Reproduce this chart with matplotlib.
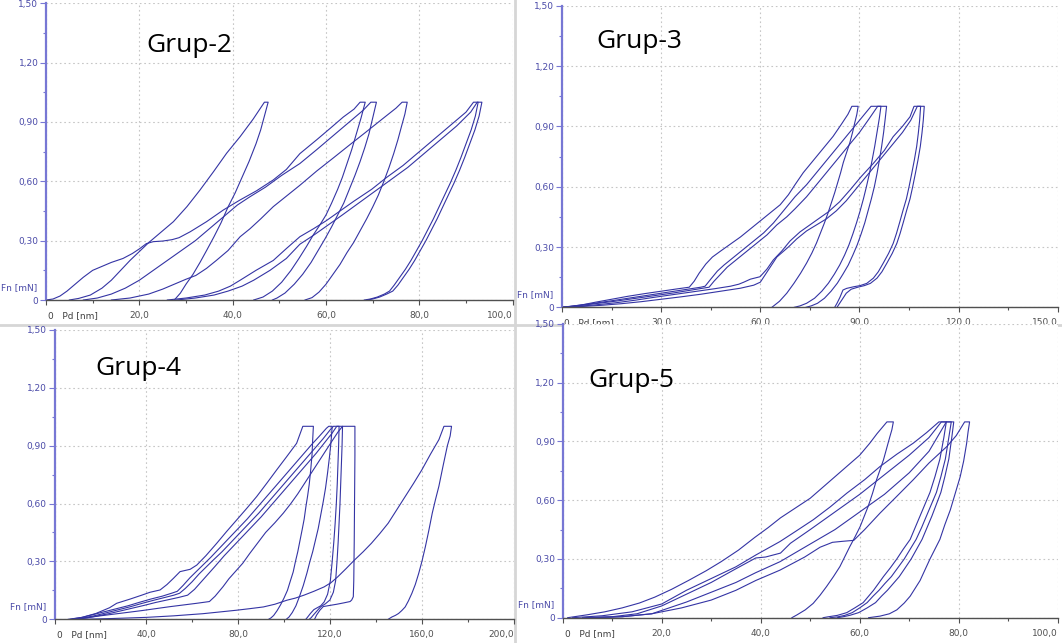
import matplotlib
matplotlib.use('Agg')
import matplotlib.pyplot as plt
from matplotlib import font_manager
from matplotlib.lines import Line2D

# ---------- data (x: Pd [nm], y: Fn [mN]) ----------

# Grup-2
g2_a = [(5,0),(7,0.008),(9.5,0.025),(12,0.06),(14,0.1),(16,0.15),(18,0.2),(20,0.245),(22,0.29),(24.5,0.34),
        (27.3,0.396),(30.2,0.472),(33,0.556),(35.9,0.649),(38.7,0.742),(41.6,0.826),(44.4,0.915),(46.8,1.0),
        (47.6,1.0),(46.8,0.93),(46.0,0.86),(45.0,0.79),(43.5,0.7),(42.0,0.62),(40.5,0.54),(39.0,0.47),(37.5,0.39),
        (36.0,0.32),(34.4,0.25),(33.0,0.19),(31.5,0.13),(30.0,0.08),(28.8,0.035),(27.5,0)]
g2_b = [(0,0),(1.5,0.005),(3,0.02),(4.5,0.045),(6,0.075),(8,0.115),(10,0.15),(12,0.17),(14,0.19),(16.5,0.21),
        (18.5,0.235),(20.1,0.26),(21.5,0.285),(23,0.295),(25,0.298),(27,0.305),(28.5,0.315),(30.9,0.345),(34.4,0.396),
        (38,0.455),(41.6,0.506),(45.1,0.552),(48.7,0.607),(51.5,0.66),(54.4,0.74),(58,0.81),(61,0.87),(63.7,0.925),
        (66,0.965),(67.3,1.0),(68.4,1.0),(67.5,0.92),(66.5,0.84),(65.5,0.76),(64.5,0.69),(63.5,0.62),(62.5,0.56),
        (61.2,0.49),(60,0.43),(58.7,0.38),(57.3,0.33),(55.8,0.27),(54.2,0.21),(52.5,0.15),(50.5,0.09),(48.5,0.045),
        (46.5,0.015),(44.5,0)]
g2_c = [(8,0),(11,0.01),(14,0.03),(17,0.06),(20,0.1),(23,0.15),(26,0.2),(29,0.25),(32,0.3),(35,0.36),(38,0.42),
        (41,0.48),(43.7,0.522),(47,0.57),(50.5,0.63),(54.4,0.69),(58,0.76),(61.5,0.83),(65,0.9),(68,0.96),(69.6,1.0),
        (70.8,1.0),(70.0,0.92),(69.2,0.84),(68.3,0.77),(67.3,0.7),(66.2,0.63),(65.0,0.56),(63.8,0.49),(62.5,0.43),
        (61.2,0.37),(59.8,0.31),(58.3,0.25),(56.8,0.19),(55.0,0.13),(53.2,0.08),(51.2,0.035),(49.5,0.01),(48.5,0)]
g2_d = [(14,0),(18,0.01),(22,0.03),(25,0.055),(28,0.085),(30,0.105),(32.1,0.124),(34.4,0.16),(36.5,0.2),(39,0.25),
        (41.6,0.32),(43.7,0.36),(46,0.41),(48.7,0.472),(51.5,0.525),(54.4,0.58),(58,0.652),(61.5,0.717),(65,0.783),
        (68.5,0.848),(72,0.914),(75,0.97),(76.3,1.0),(77.4,1.0),(76.9,0.94),(76.2,0.88),(75.4,0.81),(74.5,0.74),
        (73.5,0.67),(72.4,0.6),(71.2,0.53),(70.0,0.47),(68.7,0.41),(67.3,0.35),(65.9,0.29),(64.5,0.24),(63.0,0.18),
        (61.5,0.13),(60.0,0.08),(58.5,0.04),(57.0,0.012),(55.5,0)]
g2_e1 = [(26,0),(30,0.01),(34,0.025),(37,0.045),(39.5,0.07),(41.6,0.1),(45,0.15),(48.7,0.2),(51.5,0.26),(54.4,0.32),
         (57.3,0.36),(60,0.4),(63,0.45),(66,0.5),(69.8,0.56),(73,0.62),(76.5,0.68),(80,0.75),(83.5,0.82),(87,0.89),
         (90,0.95),(91.6,1.0),(92.6,1.0),(92.0,0.93),(91.1,0.86),(90.0,0.79),(88.9,0.72),(87.8,0.655),(86.6,0.59),
         (85.4,0.53),(84.2,0.47),(83.0,0.41),(81.8,0.355),(80.6,0.3),(79.4,0.25),(78.2,0.2),(77.0,0.155),(75.8,0.115),
         (74.6,0.075),(73.6,0.045),(72.5,0.03),(71.0,0.015),(69.5,0.005),(68.2,0)]
g2_e2 = [(28,0),(32,0.01),(36,0.025),(39,0.045),(42,0.07),(44.5,0.1),(48,0.15),(51.5,0.21),(54.4,0.282),(57.5,0.33),
         (60.5,0.38),(63.5,0.43),(67,0.49),(70.5,0.55),(74,0.61),(77.5,0.67),(81,0.74),(84.5,0.81),(88,0.88),(91,0.95),
         (92.4,1.0),(93.4,1.0),(92.8,0.93),(91.9,0.86),(90.8,0.79),(89.7,0.72),(88.6,0.655),(87.4,0.59),(86.2,0.53),
         (85.0,0.47),(83.8,0.41),(82.6,0.355),(81.4,0.3),(80.2,0.25),(79.0,0.2),(77.8,0.155),(76.6,0.115),(75.4,0.075),
         (74.3,0.045),(73.0,0.03),(71.5,0.015),(70.0,0.005),(68.8,0)]

# Grup-3
g3_p = [(0,0),(3,0.005),(6,0.012),(10,0.025),(15,0.04),(20,0.055),(25,0.068),(30,0.08),(35,0.092),(38.5,0.1),
        (40,0.13),(41.5,0.17),(43.5,0.215),(45.5,0.25),(48,0.28),(51,0.315),(54,0.35),(57,0.39),(60,0.43),(63,0.47),
        (66,0.51),(68.5,0.56),(70.5,0.61),(73,0.67),(76,0.73),(79,0.79),(82,0.85),(84.5,0.91),(86.5,0.96),(87.7,1.0),
        (89.6,1.0),(89.2,0.96),(88.6,0.92),(87.9,0.87),(87.1,0.82),(86.1,0.77),(85.1,0.72),(84.3,0.67),(83.4,0.62),
        (82.5,0.57),(81.5,0.52),(80.5,0.47),(79.4,0.42),(78.2,0.37),(77.0,0.32),(75.6,0.27),(74.0,0.22),(72.2,0.17),
        (70.2,0.12),(68.0,0.07),(65.8,0.03),(63.5,0)]
g3_q1 = [(0,0),(4,0.008),(8,0.016),(14,0.03),(20,0.045),(26,0.06),(32,0.075),(38,0.09),(42,0.1),(43.3,0.105),
         (45,0.14),(47,0.18),(49,0.21),(52,0.25),(55,0.29),(58,0.33),(61,0.37),(64,0.42),(67,0.48),(70.5,0.55),
         (74,0.61),(77.5,0.68),(81,0.75),(84.5,0.82),(88,0.89),(91,0.95),(93.5,1.0),(96.5,1.0),(96.0,0.94),(95.3,0.87),
         (94.6,0.8),(93.8,0.73),(93.0,0.665),(92.1,0.6),(91.2,0.54),(90.2,0.48),(89.1,0.42),(88.0,0.365),(86.8,0.31),
         (85.5,0.26),(84.0,0.21),(82.4,0.165),(80.6,0.12),(78.6,0.08),(76.4,0.045),(74.0,0.02),(72.0,0.007),(70.3,0)]
g3_q2 = [(0,0),(5,0.008),(10,0.018),(16,0.03),(22,0.044),(28,0.058),(34,0.072),(40,0.088),(44.5,0.1),(46,0.13),
         (48,0.165),(50,0.2),(53,0.24),(56,0.28),(59,0.32),(62,0.36),(65,0.41),(68,0.45),(70.5,0.49),(74,0.55),
         (78,0.63),(82,0.71),(86,0.79),(90,0.87),(93,0.94),(95.5,1.0),(98.2,1.0),(97.8,0.94),(97.3,0.87),(96.7,0.8),
         (96.0,0.73),(95.3,0.665),(94.5,0.6),(93.6,0.54),(92.6,0.48),(91.6,0.42),(90.5,0.365),(89.3,0.31),(88.0,0.26),
         (86.6,0.21),(85.0,0.165),(83.3,0.12),(81.4,0.08),(79.4,0.045),(77.3,0.02),(75.4,0.007),(73.8,0)]
g3_r1 = [(0,0),(5,0.005),(10,0.012),(16,0.022),(22,0.035),(28,0.05),(34,0.064),(40,0.078),(46,0.092),(51,0.105),
         (53.5,0.115),(55,0.125),(57,0.14),(59.9,0.152),(62,0.19),(63.9,0.235),(66.5,0.28),(69,0.33),(72,0.375),
         (75,0.41),(78,0.445),(80.6,0.475),(84,0.525),(87.1,0.583),(90.5,0.65),(94.2,0.716),(97.5,0.78),(100.2,0.849),
         (103,0.9),(105.3,0.948),(106.5,1.0),(108.5,1.0),(108.2,0.93),(107.8,0.866),(107.3,0.8),(106.6,0.733),
         (105.8,0.665),(105.0,0.6),(104.2,0.54),(103.2,0.484),(102.2,0.425),(101.2,0.368),(100.2,0.318),(98.8,0.268),
         (97.2,0.22),(95.7,0.177),(94.2,0.145),(92.2,0.119),(90.2,0.108),(88.2,0.102),(86.1,0.094),(85.0,0.086),
         (84.1,0.05),(83.2,0.02),(82.5,0)]
g3_r2 = [(0,0),(6,0.004),(12,0.01),(18,0.018),(24,0.028),(30,0.04),(36,0.052),(42,0.065),(48,0.08),(54,0.095),
         (58,0.11),(60,0.125),(61.4,0.16),(63,0.2),(65,0.25),(68.5,0.3),(71,0.34),(74,0.38),(77,0.41),(80,0.44),
         (83,0.48),(86,0.53),(89.5,0.6),(93,0.67),(96.5,0.74),(100,0.81),(103,0.87),(105.5,0.93),(107.5,1.0),
         (109.6,1.0),(109.3,0.93),(108.9,0.866),(108.4,0.8),(107.7,0.733),(106.9,0.665),(106.1,0.6),(105.3,0.54),
         (104.3,0.484),(103.3,0.425),(102.3,0.368),(101.3,0.318),(99.9,0.268),(98.3,0.22),(96.8,0.177),(95.3,0.145),
         (93.3,0.119),(91.5,0.108),(89.5,0.1),(87.5,0.09),(86.0,0.07),(84.8,0.04),(83.8,0.015),(83.2,0)]

# Grup-4
g4_s1 = [(6,0),(12,0.01),(18,0.03),(24,0.06),(27.1,0.083),(33,0.105),(38,0.125),(41.6,0.14),(46,0.152),(49,0.18),
         (51.8,0.212),(54.7,0.247),(59.1,0.259),(62,0.281),(66,0.33),(70.7,0.394),(75,0.455),(79.4,0.515),(84,0.578),
         (88.1,0.636),(92.5,0.705),(96.8,0.774),(101,0.84),(105.5,0.912),(108.2,1.0),(112.8,1.0),(112.5,0.93),
         (112.2,0.85),(111.6,0.77),(111.0,0.7),(110.3,0.64),(109.5,0.58),(108.8,0.52),(108.0,0.47),(107.0,0.41),
         (106.0,0.35),(105.0,0.3),(104.0,0.245),(102.8,0.2),(101.5,0.15),(100.0,0.11),(98.5,0.075),(97.0,0.045),
         (95.5,0.02),(94.3,0.007),(93.3,0)]
g4_s2 = [(7,0),(12,0.01),(17,0.025),(22,0.04),(27,0.055),(32,0.07),(37,0.088),(42,0.105),(47,0.12),(51,0.135),
         (53.5,0.145),(56,0.175),(59,0.215),(62,0.25),(65,0.285),(68,0.32),(72,0.37),(76,0.42),(80,0.47),(84,0.52),
         (88,0.575),(92,0.63),(96,0.685),(100,0.74),(104,0.795),(108,0.85),(112,0.905),(115.5,0.95),(118.5,0.99),
         (119.5,1.0),(121,1.0),(120.5,0.92),(119.8,0.84),(119.0,0.76),(118.1,0.68),(117.1,0.61),(116.0,0.54),
         (114.9,0.47),(113.7,0.41),(112.5,0.35),(111.3,0.3),(110.0,0.24),(108.4,0.175),(106.8,0.12),(105.2,0.07),
         (103.6,0.035),(102.2,0.012),(101.0,0)]
g4_s3 = [(8,0),(13,0.008),(18,0.02),(23,0.035),(28,0.05),(33,0.065),(38,0.082),(43,0.098),(48,0.113),(52,0.125),
         (54.5,0.135),(57,0.16),(60,0.195),(63,0.235),(66,0.27),(69,0.305),(73,0.35),(77,0.4),(81,0.45),(85,0.5),
         (89,0.55),(93,0.605),(97,0.66),(101,0.715),(105,0.77),(109,0.825),(113,0.88),(117,0.935),(120,0.98),
         (121.5,1.0),(124,1.0),(123.8,0.9),(123.5,0.8),(123.2,0.7),(122.8,0.6),(122.3,0.5),(121.7,0.4),(121.0,0.3),
         (120.2,0.2),(119.0,0.13),(117.5,0.09),(116.0,0.07),(114.5,0.06),(113.0,0.05),(111.5,0.03),(110.2,0.01),
         (109.5,0)]
g4_s4 = [(9,0),(14,0.007),(19,0.018),(24,0.03),(29,0.044),(34,0.058),(39,0.072),(44,0.087),(49,0.1),(54,0.113),
         (58,0.125),(61,0.155),(64,0.195),(67,0.235),(70,0.275),(74,0.33),(78,0.38),(82,0.43),(86,0.48),(90,0.53),
         (94,0.585),(98,0.64),(102,0.695),(106,0.75),(110,0.805),(114,0.86),(118,0.92),(121,0.965),(123,1.0),
         (125.5,1.0),(125.3,0.9),(125.0,0.8),(124.7,0.7),(124.4,0.6),(124.0,0.5),(123.6,0.4),(123.1,0.3),(122.5,0.2),
         (121.5,0.14),(120.0,0.1),(118.0,0.08),(116.0,0.065),(114.5,0.045),(113.0,0.025),(111.8,0.008),(111.0,0)]
g4_s5 = [(8,0),(14,0.008),(20,0.018),(26,0.027),(32,0.036),(38,0.045),(44,0.055),(50,0.065),(56,0.074),(62,0.083),
         (67.5,0.092),(70,0.12),(73.5,0.17),(76,0.21),(79,0.25),(82,0.29),(85,0.34),(88.5,0.395),(92,0.45),(96,0.5),
         (99.7,0.55),(103,0.6),(106,0.65),(109,0.705),(112,0.76),(115,0.815),(118,0.87),(121,0.925),(123.5,0.97),
         (125.5,1.0),(130.9,1.0),(130.9,0.85),(130.8,0.7),(130.7,0.55),(130.6,0.4),(130.5,0.3),(130.4,0.2),
         (130.2,0.117),(129.5,0.1),(128.8,0.092),(126.0,0.085),(123.0,0.078),(120.0,0.072),(117.1,0.066),
         (115.7,0.048),(114.2,0.022),(113.3,0)]
g4_s6 = [(12,0),(25,0.004),(40,0.01),(52,0.018),(64.6,0.029),(72,0.038),(79.3,0.047),(85,0.055),(91,0.064),
         (96,0.078),(101.3,0.099),(105,0.11),(108.7,0.125),(113,0.145),(117.5,0.168),(120.5,0.19),(123.4,0.22),
         (127,0.262),(130.7,0.307),(134.5,0.35),(138.1,0.394),(141.8,0.445),(145.4,0.498),(149,0.565),(152.8,0.636),
         (156.5,0.705),(160.1,0.775),(163.8,0.855),(167.5,0.931),(169.7,1.0),(173,1.0),(172.4,0.95),(171.2,0.9),
         (169.4,0.8),(167.5,0.69),(166.0,0.62),(164.6,0.55),(163.1,0.46),(161.6,0.376),(160.1,0.3),(158.7,0.238),
         (157.2,0.18),(155.7,0.134),(154.2,0.095),(152.8,0.064),(151.3,0.045),(149.9,0.03),(148.5,0.02),(147.0,0.012),
         (145.4,0)]

# Grup-5
g5_t1 = [(1,0),(5,0.015),(8.5,0.03),(12,0.05),(15.5,0.075),(18.6,0.105),(22,0.145),(25.4,0.19),(29,0.24),(32,0.286),
         (35.5,0.345),(38.8,0.41),(41.5,0.46),(44,0.51),(47,0.56),(50,0.61),(52.5,0.665),(55,0.72),(57.5,0.775),
         (60,0.83),(62,0.89),(63.5,0.94),(65.5,1.0),(66.8,1.0),(66.5,0.96),(66.1,0.925),(65.5,0.87),(64.8,0.806),
         (64.1,0.755),(63.4,0.704),(62.6,0.636),(61.7,0.568),(60.9,0.517),(60.1,0.466),(59.1,0.415),(58.0,0.363),
         (57.0,0.312),(56.0,0.261),(54.7,0.21),(53.3,0.159),(52.0,0.115),(50.6,0.073),(49.0,0.04),(47.3,0.014),(46.3,0)]
g5_t2 = [(2,0),(8,0.01),(14,0.03),(20,0.07),(25,0.14),(30,0.2),(35,0.26),(39,0.32),(43.9,0.389),(47,0.44),
         (50.6,0.5),(54,0.565),(57.4,0.636),(61,0.705),(64.1,0.772),(67.5,0.835),(70.8,0.891),(73.5,0.945),(76,1.0),
         (77.5,1.0),(77.0,0.92),(76.2,0.81),(75.2,0.72),(74.2,0.64),(73.2,0.58),(72.2,0.52),(71.2,0.46),(70.2,0.4),
         (68.8,0.35),(67.5,0.3),(66.2,0.255),(64.8,0.21),(63.8,0.175),(62.8,0.14),(61.8,0.11),(60.7,0.077),(59.0,0.05),
         (57.4,0.026),(55.5,0.012),(53.5,0.004),(52.6,0)]
g5_t3 = [(4,0),(10,0.005),(15,0.02),(20,0.06),(25,0.12),(30,0.18),(35,0.25),(39,0.305),(41,0.31),(44,0.33),
         (46,0.38),(50,0.45),(55,0.54),(60,0.63),(65,0.73),(70,0.83),(74,0.92),(76.5,1.0),(78.5,1.0),(78.0,0.92),
         (77.3,0.81),(76.4,0.72),(75.5,0.64),(74.5,0.58),(73.5,0.52),(72.5,0.46),(71.4,0.4),(70.2,0.35),(69.0,0.3),
         (67.7,0.255),(66.4,0.21),(65.1,0.175),(63.9,0.14),(62.7,0.11),(61.5,0.077),(60.0,0.05),(58.5,0.026),
         (57.0,0.012),(55.5,0.004),(54.0,0)]
g5_t4 = [(5,0),(12,0.005),(18,0.02),(25,0.08),(30,0.13),(35,0.18),(39,0.23),(43.9,0.286),(48.9,0.36),(55,0.45),
         (60,0.54),(65,0.63),(70,0.74),(74,0.85),(77.5,1.0),(79.0,1.0),(78.6,0.92),(78.0,0.81),(77.2,0.72),(76.4,0.64),
         (75.5,0.58),(74.6,0.52),(73.6,0.46),(72.6,0.4),(71.5,0.35),(70.4,0.3),(69.2,0.255),(68.0,0.21),(66.8,0.175),
         (65.6,0.14),(64.4,0.11),(63.2,0.077),(61.5,0.05),(59.8,0.026),(58.0,0.012),(56.5,0.004),(55.5,0)]
g5_t5 = [(6,0),(12,0.005),(18,0.02),(24,0.05),(30,0.09),(35,0.14),(39,0.19),(43.9,0.243),(48.9,0.31),(52,0.36),
         (54.5,0.385),(56.5,0.39),(58.8,0.395),(61,0.45),(64.1,0.534),(67.5,0.62),(70.8,0.704),(74,0.79),(77.6,0.874),
         (79.5,0.93),(81.2,1.0),(82.2,1.0),(81.9,0.95),(81.6,0.89),(81.0,0.8),(80.3,0.72),(79.3,0.635),(78.3,0.55),
         (77.2,0.475),(76.2,0.4),(75.2,0.35),(74.2,0.3),(73.2,0.245),(72.2,0.19),(71.2,0.15),(70.2,0.11),(69.0,0.075),
         (67.5,0.04),(66.0,0.02),(64.1,0.008),(61.8,0)]

# axis labels as printed by the instrument software
y_ticks = [0, 0.30, 0.60, 0.90, 1.20, 1.50]
y_labels = ['0', '0,30', '0,60', '0,90', '1,20', '1,50']
g2_xlabels = ['20,0', '40,0', '60,0', '80,0', '100,0']
g3_xlabels = ['30.0', '60.0', '90.0', '120.0', '150.0']
g4_xlabels = ['40,0', '80,0', '120,0', '160,0', '200,0']
g5_xlabels = ['20,0', '40,0', '60,0', '80,0', '100,0']

# ---------- styling ----------
W, H = 1062, 643
curve_col = '#3434a4'
axis_blue = '#7777d4'
label_blue = '#4a4aa8'

names = {f.name for f in font_manager.fontManager.ttflist}
tick_font = 'Liberation Sans Narrow' if 'Liberation Sans Narrow' in names else 'DejaVu Sans'
title_font = 'Open Sans' if 'Open Sans' in names else 'DejaVu Sans'

fig = plt.figure(figsize=(W / 100, H / 100), dpi=100)
fig.patch.set_facecolor('white')

# window borders of the screenshots (kept behind the axes)
fig.add_artist(Line2D([514.5 / W] * 2, [0, 1], color='#d6d6d6', lw=2, zorder=-5))
fig.add_artist(Line2D([0, 1], [1 - 325 / H] * 2, color='#d6d6d6', lw=2, zorder=-5))


def panel(x0, x1, y0, y1, xmax, xlabels, curves, title, tx, ty):
    # x0/x1: pixel columns of 0 and xmax, y0/y1: pixel rows of 0 and 1.50
    ax = fig.add_axes([x0 / W, 1 - y0 / H, (x1 - x0) / W, (y0 - y1) / H])
    ax.set_xlim(0, xmax)
    ax.set_ylim(0, 1.5)
    ax.set_axisbelow(True)
    step = xmax / 5
    ax.set_xticks([step * i for i in range(6)])
    ax.set_xticklabels([''] + xlabels, fontfamily=tick_font, fontsize=6.5, color='#404040')
    ax.get_xticklabels()[-1].set_ha('right')
    ax.set_xticks([step * (i + 0.5) for i in range(5)], minor=True)
    ax.set_yticks(y_ticks)
    ax.set_yticklabels(y_labels, fontfamily=tick_font, fontsize=6.5, color=label_blue)
    ax.set_yticks([0.15, 0.45, 0.75, 1.05, 1.35], minor=True)
    ax.grid(True, which='major', color='#c6c6c6', linestyle=(0, (1.5, 2.5)), linewidth=0.8)
    for s in ['top', 'right']:
        ax.spines[s].set_visible(False)
    ax.spines['left'].set_color(axis_blue)
    ax.spines['left'].set_linewidth(1.6)
    ax.spines['bottom'].set_color('#505050')
    ax.spines['bottom'].set_linewidth(1.0)
    ax.tick_params(axis='y', which='major', colors=axis_blue, labelcolor=label_blue, length=4, width=0.8, pad=1.5)
    ax.tick_params(axis='y', which='minor', colors=axis_blue, length=2.5, width=0.8)
    ax.tick_params(axis='x', which='major', colors='#505050', length=3.5, width=0.8, pad=4.5)
    ax.tick_params(axis='x', which='minor', colors='#505050', length=2.5, width=0.8)

    for c in curves:
        ax.plot([p[0] for p in c], [p[1] for p in c], color=curve_col, lw=0.8, solid_joinstyle='round')

    ax.annotate('Fn [mN]', xy=(0, 0.065), xycoords=('axes fraction', 'data'), xytext=(-6, 0),
                textcoords='offset points', ha='right', va='center', fontsize=6.5,
                fontfamily=tick_font, color=label_blue, annotation_clip=False)
    ax.annotate('0   Pd [nm]', xy=(0, 0), xycoords='axes fraction', xytext=(1.5, -8),
                textcoords='offset points', ha='left', va='top', fontsize=6.5,
                fontfamily=tick_font, color='#404040', annotation_clip=False)
    fig.text(tx / W, 1 - ty / H, title, fontsize=19, fontfamily=title_font, color='black',
             ha='left', va='baseline')
    return ax


panel(46, 512.7, 300, 3.3, 100, g2_xlabels, [g2_a, g2_b, g2_c, g2_d, g2_e1, g2_e2], 'Grup-2', 146, 52)
panel(562, 1057.8, 307.3, 5.8, 150, g3_xlabels, [g3_p, g3_q1, g3_q2, g3_r1, g3_r2], 'Grup-3', 596, 48)
panel(54.5, 513.5, 619.3, 329.8, 200, g4_xlabels, [g4_s1, g4_s2, g4_s3, g4_s4, g4_s5, g4_s6], 'Grup-4', 95, 375)
panel(562.7, 1057.7, 617.7, 324, 100, g5_xlabels, [g5_t1, g5_t2, g5_t3, g5_t4, g5_t5], 'Grup-5', 588, 387)

fig.savefig('out.png', dpi=100, facecolor='white')
